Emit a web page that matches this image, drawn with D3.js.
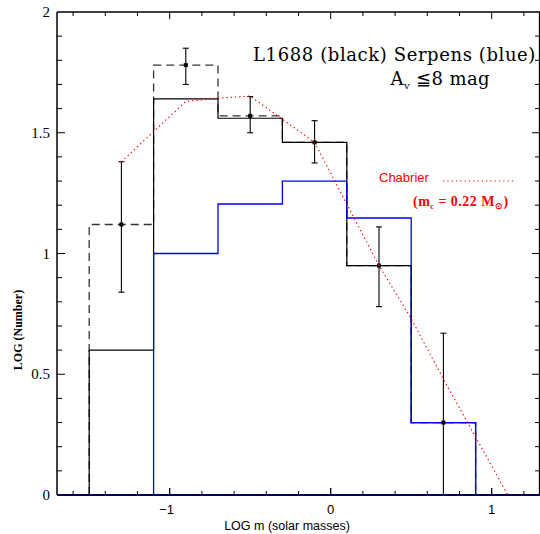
<!DOCTYPE html>
<html><head><meta charset="utf-8">
<script src="https://cdn.jsdelivr.net/npm/d3@7"></script>
<style>body{margin:0;background:#fff}svg{display:block}</style>
</head><body>
<svg id="c" width="540" height="534"></svg>
<script>
// ---- data ----
const binEdges = [-1.5, -1.1, -0.7, -0.3, 0.1, 0.5, 0.9];
const l1688Solid = [0.60, 1.64, 1.56, 1.46, 0.95, 0.30];
const l1688Dashed = [1.12, 1.78, 1.57, 1.46, 0.95, 0.30];
const serpens = [0.00, 1.00, 1.205, 1.30, 1.147, 0.30];
const errX = [-1.3, -0.9, -0.5, -0.1, 0.3, 0.7];
const errY = [1.12, 1.78, 1.57, 1.46, 0.95, 0.30];
const errLo = [0.84, 1.70, 1.50, 1.375, 0.78, 0.0];
const errHi = [1.38, 1.85, 1.65, 1.55, 1.11, 0.67];
const chabX = [-1.3, -0.9, -0.7, -0.5, -0.1, 0.3, 0.5, 0.7, 0.9, 1.1];
const chabY = [1.38, 1.63, 1.643, 1.652, 1.46, 0.95, 0.73, 0.48, 0.24, 0.0];
const xTicks = [-1, 0, 1];
const yTicks = [0, 0.5, 1, 1.5, 2];
const xDomain = [-1.7, 1.3];
const yDomain = [0, 2];

const svg = d3.select("#c");
const L = 57, R = 540, T = 12, B = 495;
const x = d3.scaleLinear().domain(xDomain).range([L, R]);
const y = d3.scaleLinear().domain(yDomain).range([B, T]);
const line = d3.line().x(d => x(d[0])).y(d => y(d[1]));

function stepPts(vals, extend) {
  const p = [];
  if (extend) p.push([xDomain[0], 0]);
  p.push([binEdges[0], 0]);
  vals.forEach((v, i) => { p.push([binEdges[i], v]); p.push([binEdges[i + 1], v]); });
  p.push([binEdges[binEdges.length - 1], 0]);
  if (extend) p.push([xDomain[1], 0]);
  return p;
}

// histograms
svg.append("path").attr("d", line(stepPts(l1688Dashed, false)))
  .attr("fill", "none").attr("stroke", "#333").attr("stroke-width", 1.3)
  .attr("stroke-dasharray", "8,5");
svg.append("path").attr("d", line(stepPts(l1688Solid, false)))
  .attr("fill", "none").attr("stroke", "#000").attr("stroke-width", 1.2);
const serpPts = stepPts(serpens, true);
svg.append("path").attr("d", line(serpPts))
  .attr("fill", "none").attr("stroke", "#0000ff").attr("stroke-width", 1.3);

// error bars
const eb = svg.append("g").attr("stroke", "#000").attr("stroke-width", 1.1);
errX.forEach((xv, i) => {
  eb.append("line").attr("x1", x(xv)).attr("x2", x(xv)).attr("y1", y(errLo[i])).attr("y2", y(errHi[i]));
  eb.append("line").attr("x1", x(xv) - 3).attr("x2", x(xv) + 3).attr("y1", y(errLo[i])).attr("y2", y(errLo[i]));
  eb.append("line").attr("x1", x(xv) - 3).attr("x2", x(xv) + 3).attr("y1", y(errHi[i])).attr("y2", y(errHi[i]));
  svg.append("rect").attr("x", x(xv) - 2).attr("y", y(errY[i]) - 2).attr("width", 4).attr("height", 4).attr("fill", "#000");
});

// Chabrier curve
svg.append("path").attr("d", line(chabX.map((d, i) => [d, chabY[i]])))
  .attr("fill", "none").attr("stroke", "#ff0000").attr("stroke-width", 1.2)
  .attr("stroke-dasharray", "1.3,3");

// frame & ticks
const ax = svg.append("g").attr("stroke", "#000").attr("fill", "none");
ax.append("line").attr("x1", L).attr("x2", L).attr("y1", T).attr("y2", B).attr("stroke-width", 1.5);
ax.append("line").attr("x1", L).attr("x2", R).attr("y1", T).attr("y2", T).attr("stroke-width", 1.3);
ax.append("line").attr("x1", R - 0.5).attr("x2", R - 0.5).attr("y1", T).attr("y2", B).attr("stroke-width", 1.3);
const xMinor = d3.range(-1.6, 1.3001, 0.2).map(v => +v.toFixed(2));
xMinor.forEach(v => {
  const major = xTicks.some(t => Math.abs(t - v) < 1e-6);
  const len = major ? 7 : 4;
  ax.append("line").attr("x1", x(v)).attr("x2", x(v)).attr("y1", B).attr("y2", B - len).attr("stroke-width", 1);
  ax.append("line").attr("x1", x(v)).attr("x2", x(v)).attr("y1", T).attr("y2", T + len).attr("stroke-width", 1);
});
xTicks.forEach(v => {
  ax.append("line").attr("x1", x(v)).attr("x2", x(v)).attr("y1", B).attr("y2", B - 7).attr("stroke-width", 1);
});
const yMinor = d3.range(0.1, 2.0, 0.1).map(v => +v.toFixed(2));
yMinor.forEach(v => {
  const major = yTicks.some(t => Math.abs(t - v) < 1e-6);
  const len = major ? 8 : 5;
  ax.append("line").attr("x1", L).attr("x2", L + len).attr("y1", y(v)).attr("y2", y(v)).attr("stroke-width", 1);
  ax.append("line").attr("x1", R).attr("x2", R - len).attr("y1", y(v)).attr("y2", y(v)).attr("stroke-width", 1);
});
// bottom axis (thick) with blue baseline overlay
ax.append("line").attr("x1", L).attr("x2", R).attr("y1", B).attr("y2", B).attr("stroke-width", 2.2);
svg.append("line").attr("x1", x(xDomain[0])).attr("x2", x(xDomain[1])).attr("y1", y(0)).attr("y2", y(0))
  .attr("stroke", "#0000aa").attr("stroke-width", 1.2);

// tick labels
const yl = svg.append("g").attr("font-family", "'Liberation Serif', serif").attr("font-size", 15).attr("text-anchor", "end");
yTicks.forEach(v => {
  yl.append("text").attr("x", 50).attr("y", y(v) + 5).text(v === 0 ? "0" : String(v));
});
const xl = svg.append("g").attr("font-family", "'Liberation Sans', Arial, sans-serif").attr("font-size", 13).attr("text-anchor", "middle");
xTicks.forEach(v => {
  xl.append("text").attr("x", x(v) + (v < 0 ? -3 : 0)).attr("y", 514).text(v < 0 ? "\u2212" + Math.abs(v) : String(v));
});

// axis titles
svg.append("text").attr("x", 287).attr("y", 530).attr("text-anchor", "middle")
  .attr("font-family", "'Liberation Sans', Arial, sans-serif").attr("font-size", 12.5)
  .text("LOG m (solar masses)");
svg.append("text").attr("transform", "translate(22,330) rotate(-90)").attr("text-anchor", "middle")
  .attr("font-family", "'Liberation Serif', serif").attr("font-size", 12).attr("font-weight", "bold")
  .text("LOG (Number)");

// annotations
svg.append("text").attr("x", 536).attr("y", 61).attr("text-anchor", "end")
  .attr("font-family", "'DejaVu Serif', serif").attr("font-size", 18).attr("letter-spacing", 0.6)
  .text("L1688 (black) Serpens (blue)");
const av = svg.append("text").attr("x", 490).attr("y", 85).attr("text-anchor", "end")
  .attr("font-family", "'DejaVu Serif', serif").attr("font-size", 18).attr("letter-spacing", 0.4);
av.append("tspan").text("A");
av.append("tspan").attr("font-size", 10).attr("dy", 4).text("v");
av.append("tspan").attr("dy", -4).text(" \u22668 mag");

svg.append("text").attr("x", 379).attr("y", 182).attr("fill", "#ff0000")
  .attr("font-family", "'Liberation Sans', Arial, sans-serif").attr("font-size", 13)
  .text("Chabrier");
svg.append("line").attr("x1", 443).attr("x2", 515).attr("y1", 181).attr("y2", 181)
  .attr("stroke", "#ff0000").attr("stroke-width", 1.2).attr("stroke-dasharray", "1.3,3");
const mc = svg.append("text").attr("x", 413).attr("y", 206).attr("fill", "#ff0000")
  .attr("font-family", "'Liberation Serif', serif").attr("font-size", 14).attr("font-weight", "bold")
  .attr("letter-spacing", 0.5);
mc.append("tspan").text("(m");
mc.append("tspan").attr("font-size", 8).attr("dy", 3).text("c");
mc.append("tspan").attr("dy", -3).text(" = 0.22 M");
mc.append("tspan").attr("font-size", 9).attr("dy", 3).text("\u2299");
mc.append("tspan").attr("dy", -3).text(")");
</script>
</body></html>
